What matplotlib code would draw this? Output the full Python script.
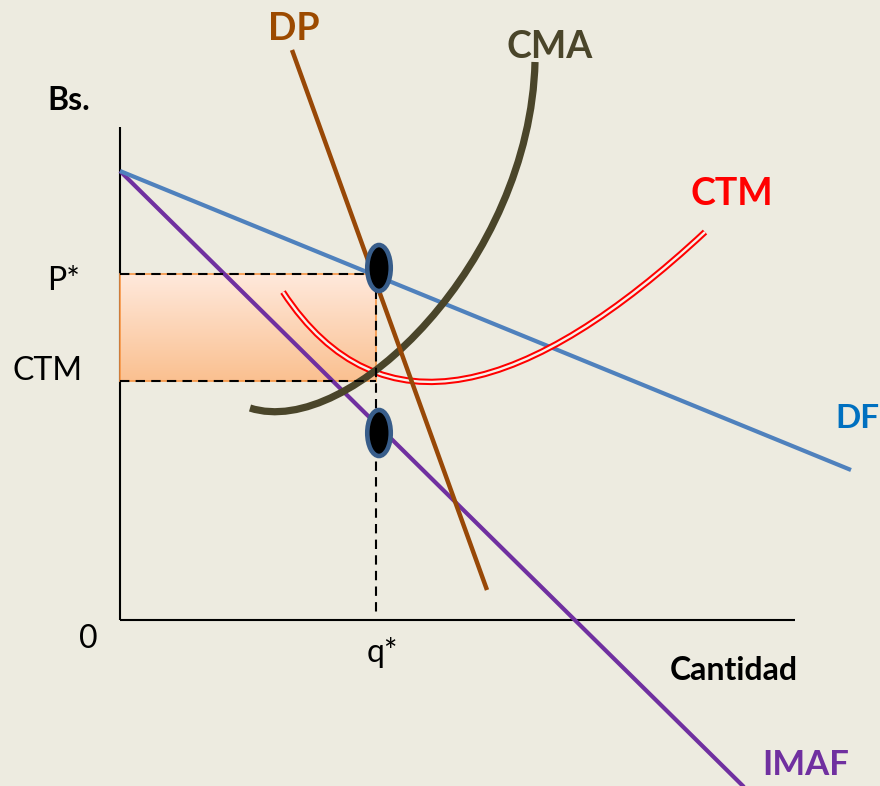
import matplotlib
matplotlib.use("Agg")
import matplotlib.pyplot as plt
import numpy as np
from matplotlib.path import Path
from matplotlib.patches import PathPatch, Ellipse, Rectangle
from matplotlib.colors import LinearSegmentedColormap
import matplotlib.patheffects as pe

# ---- data (quantity on x, Bs. on y) ----
axis_top = 493
axis_right = 675

df_q = [0, 731]          # demand faced by the firm
df_p = [449, 150]
imaf_q = [0, 625]        # marginal revenue
imaf_p = [449, -168]
dp_q = [172, 367]        # dominant-firm demand
dp_p = [570, 30]

# cost curves as cubic Bezier control points (q, Bs.)
cma_ctrl = [(130, 212), (230, 180), (410, 360), (415, 558)]
ctm_ctrl = [(163, 328), (260, 180), (410, 225), (585, 388)]

q_star = 256
p_star = 346
ctm_level = 239
eq_marks_q = [259, 259]
eq_marks_p = [352, 187]

bg = "#EDEBE0"
plt.rcParams["font.family"] = ["Lato", "DejaVu Sans"]

fig = plt.figure(figsize=(8.8, 7.86), dpi=100)
fig.patch.set_facecolor(bg)
ax = fig.add_axes([0, 0, 1, 1])
ax.set_xlim(-120, 760)
ax.set_ylim(-166, 620)
ax.axis("off")
ax.set_facecolor(bg)

# axes
ax.plot([0, 0], [0, axis_top], color="black", lw=1.5, zorder=2, solid_capstyle="butt")
ax.plot([0, axis_right], [0, 0], color="black", lw=1.5, zorder=2, solid_capstyle="butt")

# profit rectangle with vertical gradient
grad = LinearSegmentedColormap.from_list("prof", ["#FAC090", "#FFE9DC"])
ax.imshow(np.linspace(0, 1, 256).reshape(-1, 1), cmap=grad, aspect="auto",
          extent=[0, q_star, ctm_level, p_star], origin="lower", zorder=3)
ax.add_patch(Rectangle((0, ctm_level), q_star, p_star - ctm_level, fill=False,
                       edgecolor="#F79646", lw=1.2, zorder=3.1))

# straight lines
ax.plot(imaf_q, imaf_p, color="#7030A0", lw=3.0, zorder=4, solid_capstyle="butt")
ax.plot(df_q, df_p, color="#4F81BD", lw=3.0, zorder=4, solid_capstyle="butt")

# CTM double red curve
codes = [Path.MOVETO, Path.CURVE4, Path.CURVE4, Path.CURVE4]
ctm_patch = PathPatch(Path(ctm_ctrl, codes), fill=False, lw=4.6, edgecolor="#FF0000", zorder=5,
                      path_effects=[pe.Stroke(linewidth=4.6, foreground="#FF0000"),
                                    pe.Stroke(linewidth=1.7, foreground="#F6F1EA")])
ax.add_patch(ctm_patch)

# CMA curve
ax.add_patch(PathPatch(Path(cma_ctrl, codes), fill=False, lw=5.2, edgecolor="#4A452A",
                       zorder=6, capstyle="butt"))

# DP line
ax.plot(dp_q, dp_p, color="#984807", lw=3.2, zorder=7, solid_capstyle="butt")

# dashed guides
dash = dict(color="black", lw=1.5, dashes=(4.5, 3), zorder=8)
ax.plot([0, q_star], [p_star, p_star], **dash)
ax.plot([0, q_star], [ctm_level, ctm_level], **dash)
ax.plot([q_star, q_star], [p_star, 6], **dash)

# equilibrium markers
for mq, mp in zip(eq_marks_q, eq_marks_p):
    ax.add_patch(Ellipse((mq, mp), 23.5, 46, facecolor="black", edgecolor="#385D8A",
                         lw=3.3, zorder=9))

# labels
def lab(x, y, s, size, color="black", weight="bold"):
    ax.text(x, y, s, fontsize=size, color=color, fontweight=weight,
            ha="left", va="baseline", zorder=10)

lab(-73, 510, "Bs.", 23)
lab(148, 580, "DP", 27, "#9C4A00")
lab(387, 562, "CMA", 27, "#4A452A")
lab(570, 415, "CTM", 27, "#FF0000")
lab(715, 192, "DF", 24, "#0070C0")
lab(642, -155, "IMAF", 25, "#7030A0")
lab(550, -60, "Cantidad", 23)
lab(-73, 330, "P*", 23, weight="normal")
lab(-107, 240, "CTM", 23, weight="normal")
lab(-41, -28, "0", 23, weight="normal")
lab(247, -42, "q*", 23, weight="normal")

fig.savefig("out.png", dpi=100, facecolor=bg)
